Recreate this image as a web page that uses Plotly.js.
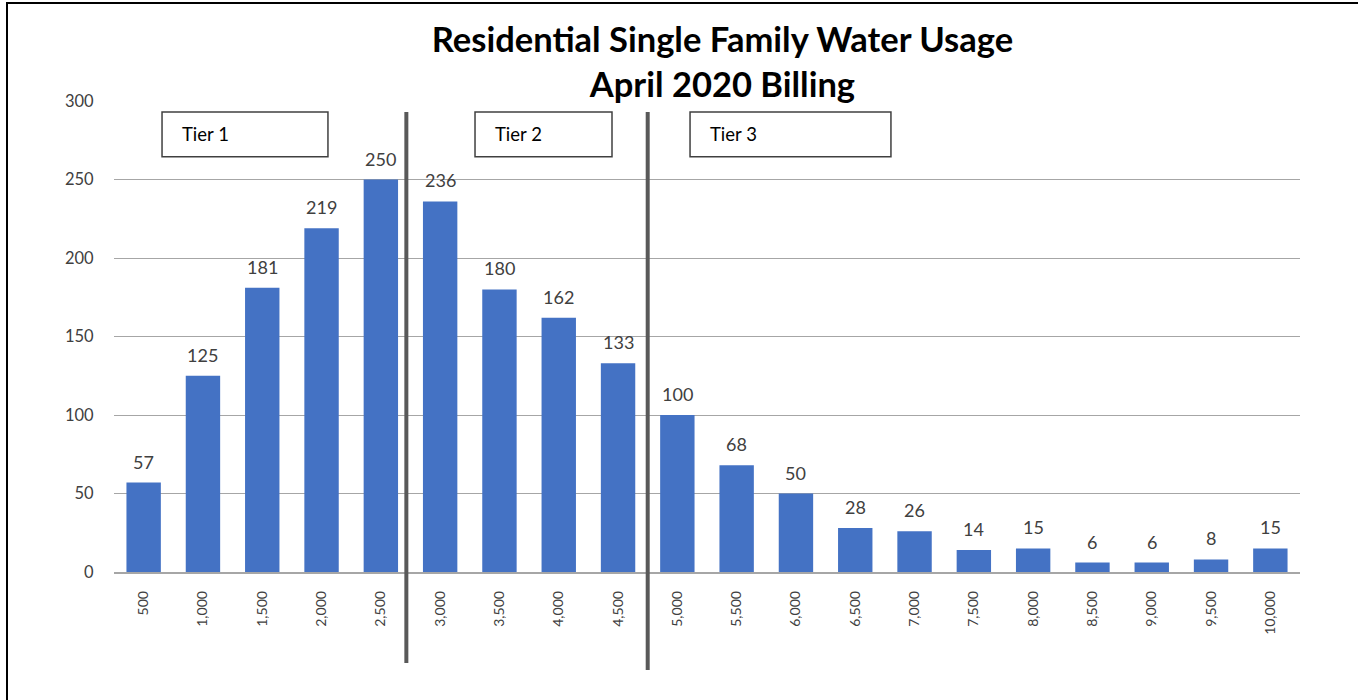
<!DOCTYPE html>
<html>
<head>
<meta charset="utf-8">
<script src="https://cdn.plot.ly/plotly-3.0.1.min.js"></script>
<style>
html,body{margin:0;padding:0;background:#fff;overflow:hidden;}
#chart{position:absolute;left:0;top:0;width:1358px;height:700px;}
#frame{position:absolute;left:6px;top:2px;width:1360px;height:710px;border-left:2px solid #000;border-top:2px solid #000;pointer-events:none;}
</style>
</head>
<body>
<div id="chart"></div>
<div id="frame"></div>
<script>
const categories = ["500","1,000","1,500","2,000","2,500","3,000","3,500","4,000","4,500","5,000","5,500","6,000","6,500","7,000","7,500","8,000","8,500","9,000","9,500","10,000"];
const usageCounts = [57,125,181,219,250,236,180,162,133,100,68,50,28,26,14,15,6,6,8,15];
const yTicks = [0,50,100,150,200,250,300];
const tierLabels = ["Tier 1","Tier 2","Tier 3"];

const FONT = 'Lato, "Open Sans", sans-serif';

const trace = {
  type: 'bar',
  x: categories,
  y: usageCounts,
  marker: {color: '#4472C4'},
  hoverinfo: 'x+y'
};

const boxes = [[0.0405,0.1804],[0.3044,0.4199],[0.4857,0.6551]];
const shapes = [];
const annotations = [];
boxes.forEach((b,i)=>{
  shapes.push({type:'rect', xref:'paper', yref:'y', x0:b[0], x1:b[1], y0:264.5, y1:293, line:{color:'#404040', width:1.5}, fillcolor:'#ffffff', layer:'above'});
  annotations.push({xref:'paper', yref:'y', x:b[0]+0.0155, y:278.7, xanchor:'left', yanchor:'middle', text:tierLabels[i], showarrow:false, font:{family:FONT, size:18.5, color:'#000'}});
});
categories.forEach((c,i)=>{
  annotations.push({xref:'x', yref:'y', x:i, y:usageCounts[i], xanchor:'center', yanchor:'bottom', yshift:8, text:String(usageCounts[i]), showarrow:false, font:{family:FONT, size:18, color:'#404040'}});
});
shapes.push({type:'line', xref:'x', yref:'paper', x0:4.43, x1:4.43, y0:0.9766, y1:-0.193, line:{color:'#595959', width:4}, layer:'above'});
shapes.push({type:'line', xref:'x', yref:'paper', x0:8.5, x1:8.5, y0:0.9766, y1:-0.208, line:{color:'#595959', width:4}, layer:'above'});

const layout = {
  width: 1358, height: 700,
  margin: {l:114, r:58, t:101, b:128},
  paper_bgcolor: '#ffffff', plot_bgcolor: '#ffffff',
  showlegend: false,
  bargap: 0.42,
  title: {
    text: '<b>Residential Single Family Water Usage<br>April 2020 Billing</b>',
    x: 0.532, xref: 'container', xanchor: 'center',
    y: 0.926, yref: 'container', yanchor: 'top',
    pad: {t: 0},
    font: {family: FONT, size: 34.5, color: '#000'}
  },
  xaxis: {
    type: 'category',
    range: [-0.5, 19.5],
    tickangle: -90,
    tickfont: {family: FONT, size: 14, color: '#404040'},
    ticks: 'outside', ticklen: 12, tickcolor: 'rgba(0,0,0,0)',
    showline: true, linecolor: '#a6a6a6', linewidth: 1.5,
    showgrid: false, fixedrange: true
  },
  yaxis: {
    range: [0, 300],
    tickvals: yTicks,
    ticktext: yTicks.map(String),
    tickfont: {family: FONT, size: 16.5, color: '#404040'},
    ticks: 'outside', ticklen: 16, tickcolor: 'rgba(0,0,0,0)',
    showgrid: true, gridcolor: '#a6a6a6', gridwidth: 1,
    zeroline: false, showline: false, fixedrange: true
  },
  shapes: shapes,
  annotations: annotations
};

Plotly.newPlot('chart', [trace], layout, {displayModeBar: false, staticPlot: true});
</script>
</body>
</html>
